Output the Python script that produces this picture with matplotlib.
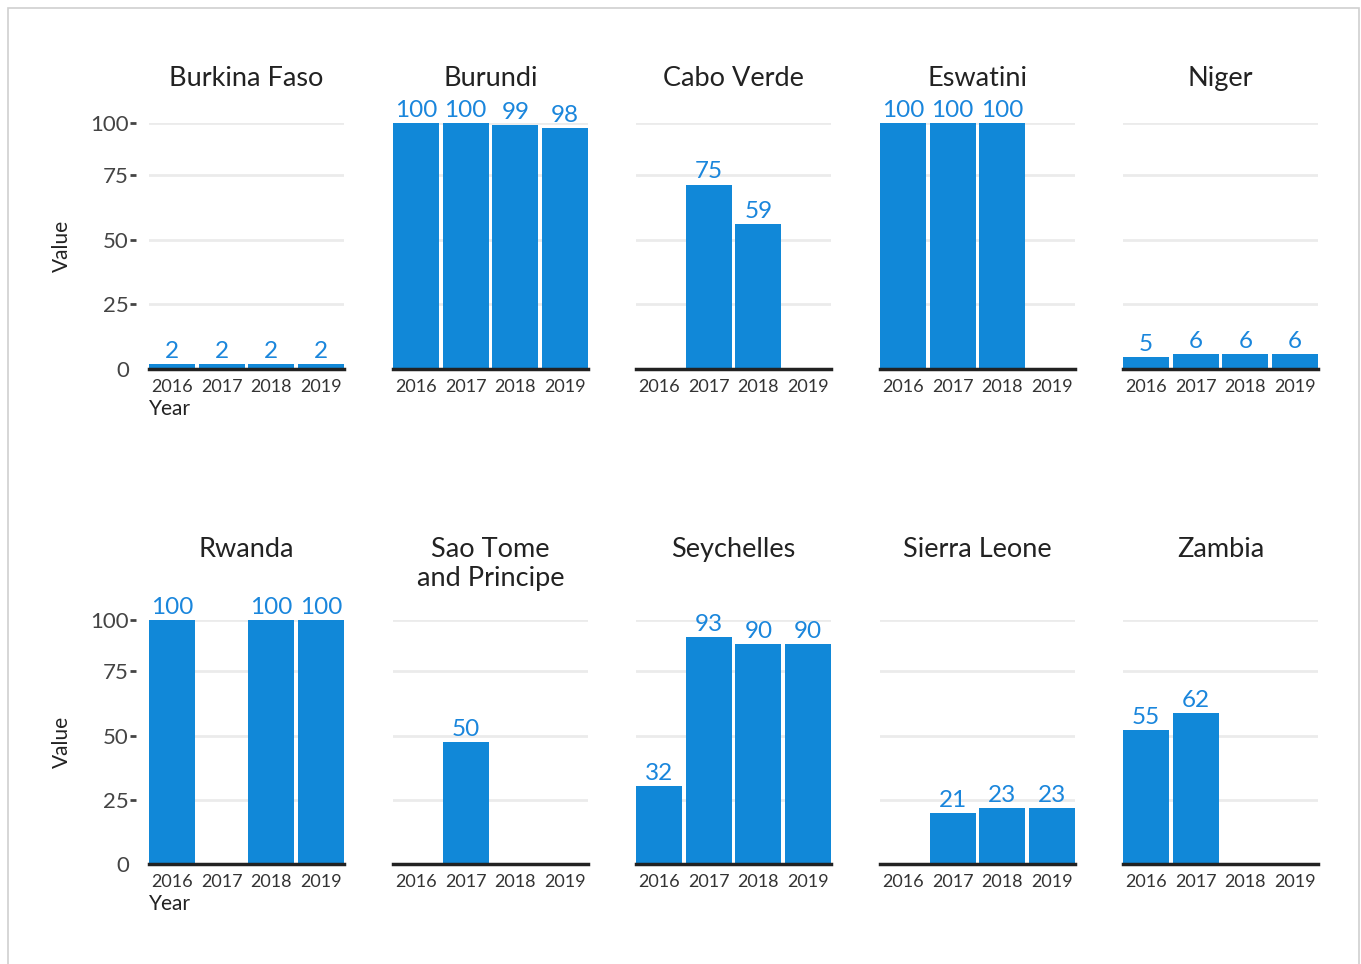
import numpy as np
import matplotlib
matplotlib.use("Agg")
import matplotlib.pyplot as plt
from matplotlib.patches import Rectangle

plt.rcParams['font.family'] = ['Lato', 'DejaVu Sans']

years = ["2016", "2017", "2018", "2019"]
countries = ["Burkina Faso", "Burundi", "Cabo Verde", "Eswatini", "Niger",
             "Rwanda", "Sao Tome\nand Principe", "Seychelles", "Sierra Leone", "Zambia"]
nan = np.nan
burkina_faso = [2, 2, 2, 2]
burundi = [100, 100, 99, 98]
cabo_verde = [nan, 75, 59, nan]
eswatini = [100, 100, 100, nan]
niger = [5, 6, 6, 6]
rwanda = [100, nan, 100, 100]
sao_tome = [nan, 50, nan, nan]
seychelles = [32, 93, 90, 90]
sierra_leone = [nan, 21, 23, 23]
zambia = [55, 62, nan, nan]
series = [burkina_faso, burundi, cabo_verde, eswatini, niger,
          rwanda, sao_tome, seychelles, sierra_leone, zambia]
ytick_labels = ["0", "25", "50", "75", "100"]
ytick_pos = [0, 26.3, 52.6, 78.9, 100]

BAR = "#1188d8"
LBL = "#1a86dc"
DARK = "#222222"

W, H = 1361, 964
fig = plt.figure(figsize=(W / 100, H / 100), dpi=100)

# border
fig.patches.append(Rectangle((8 / W, -0.01), (1359 - 8) / W, 1.01 - 8 / H,
                             transform=fig.transFigure, fill=False,
                             edgecolor="#cfcfcf", linewidth=1.2))

lefts = [149, 393, 636, 880, 1123]
bottoms = [369, 864]
tops = [123, 620]
title_y = [66, 537]
aw = 195

x = np.arange(len(years))
for i, (name, vals) in enumerate(zip(countries, series)):
    r, c = divmod(i, 5)
    ax = fig.add_axes([lefts[c] / W, 1 - bottoms[r] / H, aw / W, (bottoms[r] - tops[r]) / H])
    v = np.array(vals, dtype=float)
    ax.bar(x, np.nan_to_num(v), width=0.92, color=BAR, zorder=2)
    for xi, vi in zip(x, v):
        if not np.isnan(vi):
            ax.annotate(f"{int(vi)}", (xi, vi), xytext=(0, 1.5), textcoords="offset points",
                        ha="center", va="bottom", color=LBL, fontsize=17.5,
                        annotation_clip=False)
    ax.set_xlim(-0.46, 3.46)
    ax.set_ylim(0, 100)
    ax.set_yticks(ytick_pos)
    for yp in ytick_pos[1:]:
        ax.axhline(yp, color="#ebebeb", linewidth=2, zorder=0)
    ax.axhline(0, color=DARK, linewidth=2.5, zorder=3, clip_on=False)
    for s in ax.spines.values():
        s.set_visible(False)
    ax.spines['left'].set_position(('outward', 9.5))
    ax.set_xticks(x)
    ax.set_xticklabels(years, fontsize=13, color="#333333")
    ax.tick_params(axis="x", length=0, pad=7)
    if c == 0:
        ax.set_yticklabels(ytick_labels, fontsize=16, color="#444444")
        ax.tick_params(axis="y", length=4, width=2, color="#444444", pad=1)
        ax.yaxis.get_major_ticks()[0].tick1line.set_visible(False)
        ax.set_ylabel("Value", fontsize=15, color=DARK, labelpad=13)
        ax.set_xlabel("Year", fontsize=15, color=DARK, loc="left", labelpad=3)
    else:
        ax.tick_params(axis="y", length=0, labelleft=False)
    fig.text((lefts[c] + aw / 2) / W, 1 - title_y[r] / H, name, ha="center", va="top",
             fontsize=19.5, color=DARK, linespacing=1.2)

fig.savefig("out.png", dpi=100)
